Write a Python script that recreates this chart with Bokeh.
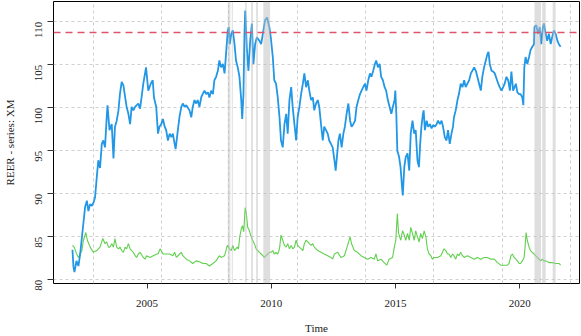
from bokeh.plotting import figure
from bokeh.models import Span, BoxAnnotation, FixedTicker
from bokeh.embed import file_html
from bokeh.resources import INLINE
import math

# ---- data ----
blue_t = [2002.00, 2002.04, 2002.08, 2002.16, 2002.24, 2002.31, 2002.40, 2002.51, 2002.58, 2002.64,
          2002.71, 2002.78, 2002.85, 2002.91, 2002.98, 2003.04, 2003.11, 2003.18, 2003.24, 2003.31,
          2003.38, 2003.41, 2003.49, 2003.58, 2003.65, 2003.71, 2003.78, 2003.85, 2003.91, 2003.98,
          2004.05, 2004.12, 2004.18, 2004.25, 2004.32, 2004.38, 2004.45, 2004.52, 2004.65, 2004.72,
          2004.78, 2004.85, 2004.96, 2005.05, 2005.15, 2005.23, 2005.28, 2005.37, 2005.44, 2005.50,
          2005.57, 2005.64, 2005.71, 2005.77, 2005.84, 2005.91, 2005.98, 2006.04, 2006.11, 2006.15,
          2006.24, 2006.31, 2006.38, 2006.44, 2006.51, 2006.58, 2006.71, 2006.78, 2006.84, 2006.91,
          2006.98, 2007.04, 2007.11, 2007.18, 2007.24, 2007.31, 2007.38, 2007.45, 2007.51, 2007.58,
          2007.65, 2007.71, 2007.78, 2007.85, 2007.91, 2007.98, 2008.05, 2008.12, 2008.18, 2008.25,
          2008.29, 2008.33, 2008.39, 2008.45, 2008.52, 2008.58, 2008.65, 2008.72, 2008.79, 2008.83,
          2008.88, 2008.92, 2008.95, 2009.02, 2009.08, 2009.15, 2009.22, 2009.28, 2009.35, 2009.42,
          2009.52, 2009.59, 2009.66, 2009.75, 2009.83, 2009.92, 2009.98, 2010.06, 2010.12, 2010.19,
          2010.26, 2010.33, 2010.39, 2010.46, 2010.53, 2010.60, 2010.66, 2010.73, 2010.80, 2010.86,
          2010.93, 2011.00, 2011.06, 2011.13, 2011.20, 2011.27, 2011.33, 2011.40, 2011.47, 2011.53,
          2011.60, 2011.67, 2011.73, 2011.80, 2011.87, 2011.93, 2012.00, 2012.07, 2012.13, 2012.20,
          2012.27, 2012.33, 2012.40, 2012.47, 2012.54, 2012.59, 2012.64, 2012.70, 2012.76, 2012.83,
          2012.90, 2012.96, 2013.03, 2013.10, 2013.17, 2013.23, 2013.30, 2013.37, 2013.43, 2013.50,
          2013.57, 2013.63, 2013.70, 2013.77, 2013.83, 2013.90, 2013.97, 2014.03, 2014.10, 2014.17,
          2014.22, 2014.29, 2014.36, 2014.42, 2014.49, 2014.56, 2014.62, 2014.69, 2014.76, 2014.83,
          2014.89, 2014.96, 2014.99, 2015.03, 2015.07, 2015.14, 2015.20, 2015.26, 2015.29, 2015.35,
          2015.41, 2015.48, 2015.55, 2015.61, 2015.68, 2015.75, 2015.81, 2015.88, 2015.94, 2015.99,
          2016.04, 2016.10, 2016.13, 2016.18, 2016.25, 2016.31, 2016.38, 2016.45, 2016.51, 2016.58,
          2016.65, 2016.71, 2016.78, 2016.85, 2016.91, 2016.98, 2017.05, 2017.11, 2017.18, 2017.25,
          2017.31, 2017.35, 2017.42, 2017.49, 2017.55, 2017.62, 2017.69, 2017.76, 2017.82, 2017.89,
          2017.96, 2018.03, 2018.09, 2018.16, 2018.23, 2018.29, 2018.36, 2018.43, 2018.49, 2018.56,
          2018.63, 2018.70, 2018.74, 2018.79, 2018.86, 2018.93, 2018.99, 2019.06, 2019.13, 2019.19,
          2019.26, 2019.33, 2019.39, 2019.46, 2019.53, 2019.60, 2019.66, 2019.73, 2019.84, 2019.90,
          2019.97, 2020.03, 2020.10, 2020.14, 2020.18, 2020.23, 2020.30, 2020.37, 2020.43, 2020.50,
          2020.57, 2020.59, 2020.66, 2020.73, 2020.80, 2020.86, 2020.93, 2020.97, 2021.04, 2021.10,
          2021.17, 2021.24, 2021.30, 2021.37, 2021.44, 2021.51, 2021.57, 2021.64]
blue_v = [83.5, 81.5, 80.9, 82.2, 81.6, 83.0, 85.5, 88.5, 89.2, 88.0,
          88.8, 88.6, 89.0, 89.6, 92.0, 93.9, 93.0, 95.8, 96.2, 95.4,
          99.0, 100.3, 97.4, 98.1, 94.1, 97.8, 98.5, 99.7, 101.6, 103.0,
          102.6, 101.2, 100.1, 99.3, 98.1, 100.1, 99.7, 100.1, 100.5, 99.9,
          101.2, 102.8, 104.7, 102.0, 102.8, 103.2, 101.2, 100.1, 97.0, 97.8,
          98.1, 98.7, 97.8, 97.4, 96.2, 97.0, 96.6, 97.0, 95.8, 95.2,
          97.4, 99.0, 100.1, 100.5, 100.1, 100.3, 99.7, 98.9, 100.1, 100.9,
          100.5, 100.9, 100.1, 101.2, 101.6, 102.0, 101.6, 101.8, 101.2, 102.0,
          101.6, 103.2, 103.6, 104.3, 105.5, 104.7, 105.1, 104.0, 106.3, 109.0,
          109.4, 107.4, 108.6, 109.0, 107.4, 105.5, 104.7, 103.6, 100.9, 98.7,
          101.6, 108.6, 111.3, 106.7, 104.3, 107.8, 109.8, 105.1, 107.4, 108.2,
          107.8, 107.4, 108.6, 110.2, 110.5, 109.4, 108.2, 105.9, 103.2, 102.8,
          101.2, 98.9, 96.2, 95.4, 98.1, 99.3, 97.0, 100.9, 102.4, 100.1,
          98.1, 96.2, 98.9, 100.1, 101.6, 102.8, 104.0, 102.4, 103.2, 102.0,
          100.9, 101.2, 99.7, 100.5, 100.9, 100.1, 98.1, 96.2, 97.8, 97.4,
          97.0, 96.2, 95.8, 95.4, 93.9, 92.7, 94.3, 96.2, 97.0, 95.4,
          97.0, 97.8, 99.3, 100.5, 98.5, 97.8, 98.1, 98.5, 100.1, 100.9,
          101.6, 102.0, 102.4, 102.8, 102.0, 103.2, 104.0, 103.6, 104.3, 105.1,
          105.5, 104.7, 105.1, 103.6, 103.2, 102.4, 102.0, 100.9, 100.1, 99.3,
          100.1, 100.9, 102.0, 99.3, 95.0, 94.3, 93.1, 90.8, 89.8, 93.1,
          94.3, 94.7, 92.7, 97.0, 98.5, 97.0, 97.4, 93.9, 93.1, 95.8,
          97.8, 99.3, 99.7, 97.4, 98.5, 97.8, 98.1, 97.6, 98.0, 97.8,
          98.1, 98.5, 98.1, 98.5, 97.8, 96.6, 96.2, 97.4, 95.8, 97.0,
          97.8, 98.9, 99.7, 100.9, 101.6, 102.8, 102.4, 103.2, 102.4, 102.8,
          103.2, 104.0, 104.3, 104.7, 104.3, 103.6, 102.8, 102.0, 103.6, 104.7,
          105.5, 106.3, 106.5, 105.1, 104.3, 104.2, 104.0, 103.4, 102.8, 102.4,
          102.0, 102.4, 102.8, 103.6, 103.2, 102.0, 104.2, 102.0, 102.8, 101.8,
          101.6, 101.6, 101.2, 100.3, 104.7, 105.9, 105.1, 105.9, 106.7, 107.1,
          107.4, 109.4, 109.6, 108.6, 109.4, 107.4, 109.4, 109.8, 108.6, 107.8,
          108.6, 107.4, 108.2, 109.0, 108.6, 107.8, 107.4, 107.1]

green_t = [2002.00, 2002.07, 2002.17, 2002.24, 2002.31, 2002.38, 2002.44, 2002.54, 2002.60, 2002.71,
           2002.84, 2002.98, 2003.11, 2003.22, 2003.31, 2003.38, 2003.45, 2003.51, 2003.58, 2003.65,
           2003.71, 2003.78, 2003.85, 2003.91, 2003.98, 2004.05, 2004.12, 2004.18, 2004.25, 2004.32,
           2004.38, 2004.45, 2004.52, 2004.58, 2004.65, 2004.72, 2004.85, 2004.92, 2004.98, 2005.12,
           2005.25, 2005.39, 2005.44, 2005.53, 2005.64, 2005.78, 2005.91, 2006.04, 2006.11, 2006.18,
           2006.31, 2006.38, 2006.44, 2006.58, 2006.71, 2006.84, 2006.98, 2007.11, 2007.25, 2007.38,
           2007.51, 2007.65, 2007.78, 2007.91, 2007.98, 2008.12, 2008.23, 2008.32, 2008.39, 2008.45,
           2008.52, 2008.63, 2008.68, 2008.73, 2008.79, 2008.84, 2008.89, 2008.95, 2009.00, 2009.05,
           2009.12, 2009.19, 2009.25, 2009.32, 2009.39, 2009.46, 2009.52, 2009.59, 2009.66, 2009.72,
           2009.79, 2009.86, 2009.92, 2009.99, 2010.06, 2010.12, 2010.19, 2010.26, 2010.33, 2010.39,
           2010.46, 2010.53, 2010.60, 2010.66, 2010.73, 2010.80, 2010.86, 2010.93, 2011.00, 2011.06,
           2011.13, 2011.20, 2011.27, 2011.33, 2011.40, 2011.47, 2011.53, 2011.60, 2011.67, 2011.73,
           2011.80, 2011.87, 2012.00, 2012.13, 2012.27, 2012.40, 2012.47, 2012.54, 2012.67, 2012.80,
           2012.94, 2013.07, 2013.17, 2013.23, 2013.34, 2013.47, 2013.61, 2013.74, 2013.88, 2014.01,
           2014.14, 2014.21, 2014.28, 2014.41, 2014.54, 2014.65, 2014.74, 2014.88, 2014.95, 2015.01,
           2015.07, 2015.12, 2015.21, 2015.28, 2015.35, 2015.41, 2015.48, 2015.55, 2015.61, 2015.68,
           2015.75, 2015.81, 2015.88, 2015.95, 2016.01, 2016.08, 2016.15, 2016.22, 2016.28, 2016.35,
           2016.42, 2016.48, 2016.55, 2016.69, 2016.82, 2016.95, 2017.02, 2017.09, 2017.15, 2017.22,
           2017.29, 2017.35, 2017.42, 2017.49, 2017.55, 2017.62, 2017.69, 2017.76, 2017.89, 2018.03,
           2018.16, 2018.29, 2018.43, 2018.56, 2018.70, 2018.83, 2018.97, 2019.10, 2019.23, 2019.37,
           2019.50, 2019.57, 2019.64, 2019.70, 2019.77, 2019.84, 2019.90, 2019.97, 2020.03, 2020.10,
           2020.17, 2020.21, 2020.25, 2020.30, 2020.37, 2020.43, 2020.50, 2020.57, 2020.63, 2020.70,
           2020.77, 2020.84, 2020.90, 2020.97, 2021.04, 2021.17, 2021.30, 2021.44, 2021.57, 2021.64]
green_v = [84.0, 83.8, 83.0, 82.6, 83.0, 83.4, 84.6, 85.5, 84.6, 83.8,
           83.2, 83.4, 83.8, 84.8, 84.2, 84.4, 83.8, 83.8, 84.2, 83.8,
           84.8, 83.8, 83.6, 83.8, 83.4, 83.2, 83.8, 83.6, 84.2, 83.6,
           83.4, 83.2, 82.8, 82.6, 83.0, 83.2, 82.6, 82.4, 82.8, 82.6,
           82.8, 83.0, 83.0, 83.6, 83.0, 83.0, 83.0, 82.8, 83.2, 82.6,
           83.0, 83.2, 82.8, 82.4, 82.2, 81.9, 82.2, 82.1, 81.9, 81.9,
           81.6, 81.9, 82.2, 82.8, 82.6, 82.8, 84.0, 83.6, 83.4, 84.0,
           83.4, 83.8, 83.6, 85.0, 85.9, 86.3, 85.6, 88.4, 87.6, 86.1,
           85.7, 85.0, 84.6, 84.2, 83.6, 83.4, 83.2, 83.0, 82.8, 82.6,
           82.8, 83.0, 83.2, 83.2, 83.4, 83.0, 83.2, 83.0, 83.6, 85.2,
           84.6, 84.0, 83.8, 84.2, 83.6, 84.0, 83.6, 83.8, 84.6, 84.0,
           83.8, 83.6, 83.4, 84.2, 84.6, 84.4, 84.2, 84.0, 84.2, 83.8,
           83.6, 83.4, 83.2, 83.0, 82.8, 82.6, 82.4, 83.0, 83.2, 82.6,
           82.8, 84.0, 85.0, 84.2, 83.4, 83.2, 82.8, 82.6, 82.4, 82.6,
           82.4, 83.0, 82.2, 82.4, 82.0, 81.7, 82.4, 82.6, 83.8, 84.6,
           87.7, 85.4, 84.6, 85.7, 85.2, 84.6, 85.4, 84.6, 86.1, 85.4,
           84.6, 85.7, 85.0, 84.4, 85.4, 84.8, 85.7, 85.0, 83.6, 83.0,
           82.8, 82.4, 82.6, 82.6, 82.8, 83.6, 83.4, 83.0, 83.0, 82.6,
           83.0, 82.8, 82.4, 83.0, 82.8, 83.2, 82.8, 82.6, 82.8, 82.6,
           82.4, 82.6, 82.4, 82.6, 82.6, 82.4, 82.4, 82.0, 81.7, 81.7,
           81.7, 81.9, 82.8, 83.0, 82.6, 82.4, 82.2, 81.9, 81.9, 82.2,
           82.6, 83.8, 85.5, 84.6, 83.8, 83.4, 83.2, 83.0, 82.8, 82.6,
           82.4, 82.2, 82.4, 82.2, 82.2, 82.0, 82.0, 81.9, 81.9, 81.7]

threshold = 108.76
bands_start = [2008.25, 2008.41, 2008.95, 2009.19, 2009.39, 2009.68, 2020.59, 2020.90, 2021.32]
bands_end   = [2008.35, 2008.45, 2009.01, 2009.26, 2009.46, 2009.95, 2020.85, 2021.04, 2021.44]

x_ticks = [2005, 2010, 2015, 2020]
y_ticks = [80, 85, 90, 95, 100, 105, 110]
x_grid = [2002.84, 2005.60, 2008.27, 2011.06, 2013.81, 2016.54, 2019.30, 2022.04]

FONT = "Liberation Serif"
TXT = "#1a1a1a"

p = figure(width=581, height=336, output_backend="svg", toolbar_location=None,
           x_range=(2001.237, 2022.40), y_range=(79.57, 112.36),
           min_border_left=52, min_border_right=2, min_border_top=1, min_border_bottom=53,
           background_fill_color="white", border_fill_color="white")

p.outline_line_color = "black"
p.outline_line_width = 1

# grids
p.xgrid.ticker = FixedTicker(ticks=x_grid)
p.ygrid.ticker = FixedTicker(ticks=y_ticks)
for g in (p.xgrid, p.ygrid):
    g.grid_line_color = "#cfcfcf"
    g.grid_line_dash = "3 3"
    g.grid_line_width = 1

# axes
p.xaxis.ticker = FixedTicker(ticks=x_ticks)
p.yaxis.ticker = FixedTicker(ticks=y_ticks)
for ax in (p.xaxis, p.yaxis):
    ax.axis_line_color = None
    ax.major_tick_in = 0
    ax.minor_tick_line_color = None
    ax.major_tick_line_color = "#333333"
    ax.major_label_text_font = FONT
    ax.major_label_text_font_size = "11px"
    ax.major_label_text_color = TXT
    ax.axis_label_text_font = FONT
    ax.axis_label_text_font_size = "11px"
    ax.axis_label_text_font_style = "normal"
    ax.axis_label_text_color = TXT
p.xaxis.major_tick_out = 5
p.xaxis.major_label_standoff = 11
p.xaxis.axis_label = "Time"
p.xaxis.axis_label_standoff = 12
p.yaxis.major_tick_out = 6
p.yaxis.major_label_standoff = 9
p.yaxis.major_label_orientation = math.pi / 2
p.yaxis.axis_label = "REER - series: XM"
p.yaxis.axis_label_standoff = 13

# series
p.line(green_t, green_v, line_color="#61D04F", line_width=1.1)
p.line(blue_t, blue_v, line_color="#2297E6", line_width=1.8)

# shaded periods
for a, b in zip(bands_start, bands_end):
    p.add_layout(BoxAnnotation(left=a, right=b, fill_color="#bebebe", fill_alpha=0.5,
                               line_color=None))

p.add_layout(Span(location=threshold, dimension="width", line_color="#DF536B",
                  line_dash="7 5", line_width=1.5))

open("out.html", "w").write(file_html(p, INLINE))
